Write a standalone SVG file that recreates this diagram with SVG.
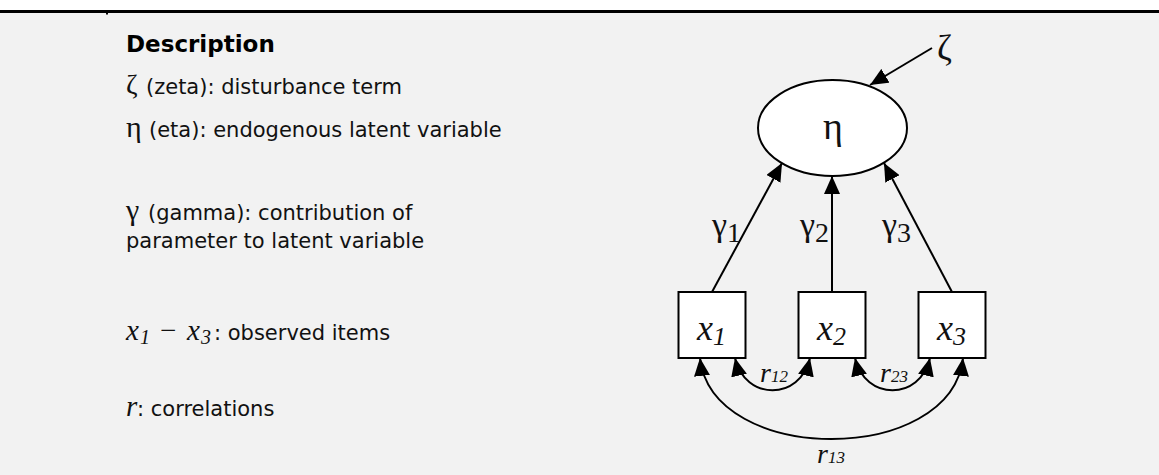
<svg xmlns="http://www.w3.org/2000/svg" width="1159" height="475" viewBox="0 0 1159 475">
<defs>
<style>
.bg{fill:#f2f2f2}
.body{font-family:"DejaVu Sans",Verdana,sans-serif;font-size:21px;fill:#111}
.head{font-family:"DejaVu Sans",Verdana,sans-serif;font-size:23px;font-weight:bold;fill:#000}
.gr{font-family:"Liberation Serif","Times New Roman",serif;fill:#111}
.it{font-family:"Liberation Serif","Times New Roman",serif;font-style:italic;fill:#111}
.shape{fill:#fff;stroke:#000;stroke-width:2}
.conn{fill:none;stroke:#000;stroke-width:2}
</style>
<marker id="ah" markerUnits="userSpaceOnUse" markerWidth="20" markerHeight="16" viewBox="0 0 20 16" refX="18" refY="8" orient="auto-start-reverse">
<path d="M0,0 L18,8 L0,16 Z" fill="#000"/>
</marker>
</defs>
<rect x="0" y="0" width="1159" height="475" fill="#fff"/>
<rect class="bg" x="0" y="13" width="1159" height="462"/>
<rect x="0" y="10" width="1159" height="3" fill="#000"/>
<rect x="106" y="13" width="2" height="1.5" fill="#000"/>

<g id="legend">
<text class="head" x="126" y="52">Description</text>
<text class="body" y="94"><tspan class="gr" x="126" font-size="28">ζ</tspan><tspan x="146">(zeta): disturbance term</tspan></text>
<text class="body" y="137"><tspan class="gr" x="126" font-size="30">η</tspan><tspan x="149">(eta): endogenous latent variable</tspan></text>
<text class="body" y="220"><tspan class="gr" x="126" font-size="30">γ</tspan><tspan x="148">(gamma): contribution of</tspan></text>
<text class="body" x="126" y="248">parameter to latent variable</text>
<text class="body" y="340"><tspan class="it" x="126" font-size="29">x</tspan><tspan class="it" x="140" dy="4" font-size="20">1</tspan><tspan class="gr" x="160" dy="-4" font-size="29">−</tspan><tspan class="it" x="187" font-size="29">x</tspan><tspan class="it" x="201" dy="4" font-size="20">3</tspan><tspan x="214" dy="-4">: observed items</tspan></text>
<text class="body" y="416"><tspan class="it" x="126" font-size="29">r</tspan><tspan x="137">: correlations</tspan></text>
</g>

<g id="connectors">
<line class="conn" x1="932" y1="48" x2="870" y2="85" marker-end="url(#ah)"/>
<line class="conn" x1="712" y1="292" x2="782" y2="163" marker-end="url(#ah)"/>
<line class="conn" x1="832" y1="292" x2="832" y2="176" marker-end="url(#ah)"/>
<line class="conn" x1="952" y1="292" x2="884" y2="163" marker-end="url(#ah)"/>
<path class="conn" d="M735,358 C745,401 800,401 810,358" marker-start="url(#ah)" marker-end="url(#ah)"/>
<path class="conn" d="M855,358 C865,401 920,401 930,358" marker-start="url(#ah)" marker-end="url(#ah)"/>
<path class="conn" d="M700,358 C712,466 951,466 963,358" marker-start="url(#ah)" marker-end="url(#ah)"/>
</g>

<g id="zeta">
<text class="gr" x="937" y="60" font-size="36">ζ</text>
</g>
<g id="eta">
<ellipse class="shape" cx="832.5" cy="128" rx="74.5" ry="48"/>
<text class="gr" x="833" y="139" font-size="38" text-anchor="middle">η</text>
</g>
<g id="x1">
<rect class="shape" x="678.5" y="292" width="67" height="66"/>
<text class="it" x="697" y="340" font-size="36">x<tspan font-size="26" dy="5">1</tspan></text>
</g>
<g id="x2">
<rect class="shape" x="798.5" y="292" width="67" height="66"/>
<text class="it" x="817" y="340" font-size="36">x<tspan font-size="26" dy="5">2</tspan></text>
</g>
<g id="x3">
<rect class="shape" x="918.5" y="292" width="67" height="66"/>
<text class="it" x="937" y="340" font-size="36">x<tspan font-size="26" dy="5">3</tspan></text>
</g>

<g id="labels">
<text class="gr" x="712" y="236" font-size="34">γ<tspan font-size="28" dy="6">1</tspan></text>
<text class="gr" x="800" y="236" font-size="34">γ<tspan font-size="28" dy="6">2</tspan></text>
<text class="gr" x="882" y="236" font-size="34">γ<tspan font-size="28" dy="6">3</tspan></text>
<text class="it" x="760" y="382" font-size="28">r<tspan font-size="17">12</tspan></text>
<text class="it" x="880" y="382" font-size="28">r<tspan font-size="17">23</tspan></text>
<text class="it" x="817" y="463" font-size="28">r<tspan font-size="17">13</tspan></text>
</g>
</svg>
